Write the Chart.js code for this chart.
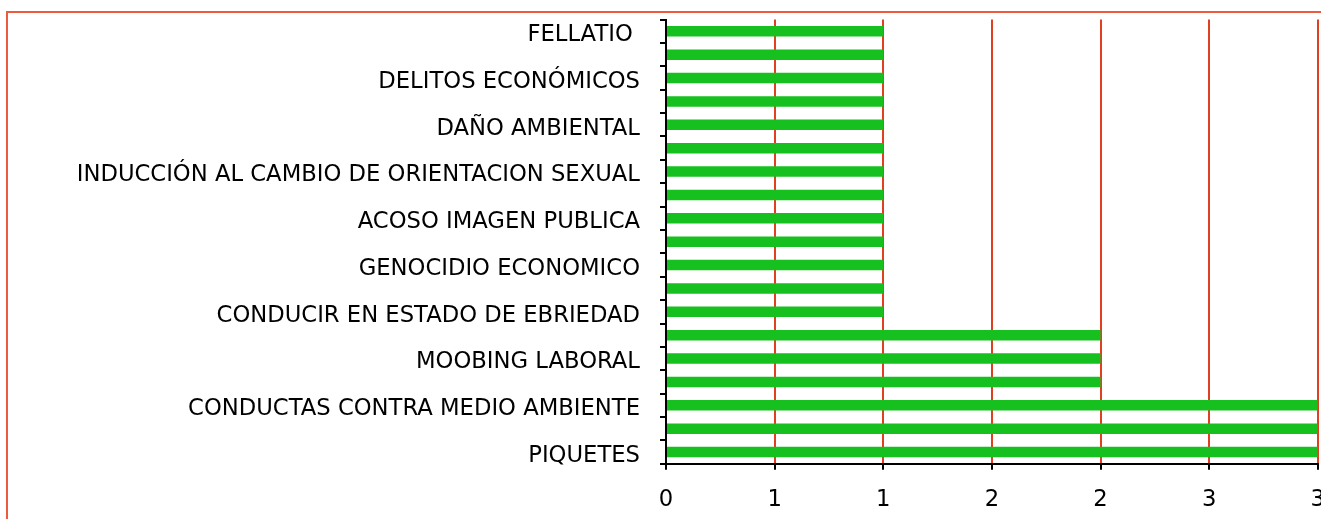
<!DOCTYPE html>
<html>
<head>
<meta charset="utf-8">
<script src="https://cdn.jsdelivr.net/npm/chart.js"></script>
<style>
  html, body { margin: 0; padding: 0; background: #fff; overflow: hidden; }
  #wrap { position: relative; width: 1321px; height: 519px; overflow: hidden; }
  #frame { position: absolute; left: 6px; top: 11px; width: 1400px; height: 600px; border: 2px solid #ee5a3c; }
  #chart { position: absolute; left: 0; top: -14px; }
</style>
</head>
<body>
<div id="wrap">
  <div id="frame"></div>
  <canvas id="chart" width="1342" height="559"></canvas>
</div>
<script>
// categories, top to bottom (only every other name is printed on the axis)
var categories = [
	'FELLATIO ', '', 'DELITOS ECONÓMICOS', '', 'DAÑO AMBIENTAL', '',
	'INDUCCIÓN AL CAMBIO DE ORIENTACION SEXUAL', '', 'ACOSO IMAGEN PUBLICA', '',
	'GENOCIDIO ECONOMICO', '', 'CONDUCIR EN ESTADO DE EBRIEDAD', '',
	'MOOBING LABORAL', '', 'CONDUCTAS CONTRA MEDIO AMBIENTE', '', 'PIQUETES'
];
var counts = [1, 1, 1, 1, 1, 1, 1, 1, 1, 1, 1, 1, 1, 2, 2, 2, 3, 3, 3];
var xTickStep = 0.5;
var xMax = 3;

var ctx = document.getElementById('chart').getContext('2d');
var chart = new Chart(ctx, {
	type: 'bar',
	data: {
		labels: categories,
		datasets: [{
			label: 'Casos',
			data: counts,
			backgroundColor: '#16c11f',
			borderWidth: 0,
			barPercentage: 0.45,
			categoryPercentage: 1
		}]
	},
	options: {
		indexAxis: 'y',
		responsive: false,
		animation: false,
		layout: { padding: { top: 6, bottom: 14, left: 0, right: 0 } },
		plugins: {
			legend: { display: false },
			tooltip: { enabled: false }
		},
		scales: {
			x: {
				min: 0,
				max: xMax,
				ticks: {
					stepSize: xTickStep,
					color: '#000',
					padding: 17,
					font: { family: 'DejaVu Sans', size: 22.7 },
					callback: function (v) { return Math.round(v); }
				},
				grid: { color: '#e0401f', lineWidth: 2, tickColor: '#000', tickLength: 6 },
				border: { color: '#000', width: 2 }
			},
			y: {
				afterFit: function (s) { s.width = 666; },
				ticks: {
					autoSkip: false,
					color: '#000',
					padding: 20,
					labelOffset: 4,
					font: { family: 'DejaVu Sans', size: 22.7 },
					callback: function (v, i) { return categories[i]; }
				},
				grid: { drawOnChartArea: false, tickColor: '#000', tickLength: 6, lineWidth: 2 },
				border: { color: '#000', width: 2 }
			}
		}
	}
});
</script>
</body>
</html>
